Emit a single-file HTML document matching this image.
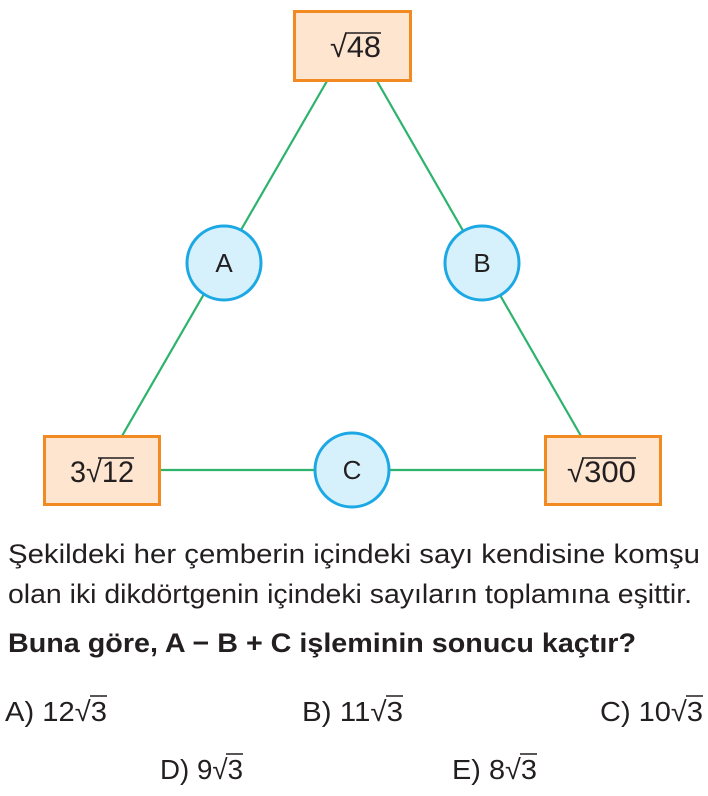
<!DOCTYPE html>
<html><head><meta charset="utf-8"><style>
html,body{margin:0;padding:0;background:#fff;}
svg{display:block;}
text{font-family:"Liberation Sans",sans-serif;fill:#231f20;}
</style></head><body>
<svg width="708" height="796" viewBox="0 0 708 796" xmlns="http://www.w3.org/2000/svg">
<g stroke="#2db36b" stroke-width="2.2" fill="none">
<line x1="327" y1="81" x2="122" y2="436"/>
<line x1="377" y1="81" x2="581" y2="436"/>
<line x1="160" y1="470" x2="545" y2="470"/>
</g>
<g fill="#fde5cf" stroke="#f18a21" stroke-width="3">
<rect x="294.5" y="11.5" width="116" height="69"/>
<rect x="44.5" y="436.5" width="115" height="68"/>
<rect x="545.5" y="436.5" width="115" height="68"/>
</g>
<g fill="#d6f1fc" stroke="#1ba8e4" stroke-width="3">
<circle cx="224" cy="263" r="37"/>
<circle cx="482" cy="263" r="37"/>
<circle cx="352" cy="470" r="37"/>
</g>
<g font-size="26" text-anchor="middle">
<text x="224" y="272">A</text>
<text x="482" y="272">B</text>
<text x="352" y="479">C</text>
</g>
<g font-size="30">
<text x="330" y="57" textLength="51" lengthAdjust="spacingAndGlyphs">√48</text>
<text x="70" y="482" textLength="64" lengthAdjust="spacingAndGlyphs">3√12</text>
<text x="567" y="482" textLength="69" lengthAdjust="spacingAndGlyphs">√300</text>
</g>
<g stroke="#231f20" stroke-width="1.6">
<line x1="345" y1="33" x2="381" y2="33"/>
<line x1="98" y1="458" x2="134" y2="458"/>
<line x1="582" y1="458" x2="636" y2="458"/>
</g>
<g font-size="27">
<text x="8" y="563" textLength="692" lengthAdjust="spacingAndGlyphs">Şekildeki her çemberin içindeki sayı kendisine komşu</text>
<text x="8" y="603" textLength="684" lengthAdjust="spacingAndGlyphs">olan iki dikdörtgenin içindeki sayıların toplamına eşittir.</text>
<text x="8" y="652" font-weight="bold" textLength="628" lengthAdjust="spacingAndGlyphs">Buna göre, A − B + C işleminin sonucu kaçtır?</text>
</g>
<g font-size="28">
<text x="5" y="721" textLength="102" lengthAdjust="spacingAndGlyphs">A) 12√3</text>
<text x="302" y="721" textLength="101" lengthAdjust="spacingAndGlyphs">B) 11√3</text>
<text x="600" y="721" textLength="103" lengthAdjust="spacingAndGlyphs">C) 10√3</text>
<text x="160" y="779" textLength="83" lengthAdjust="spacingAndGlyphs">D) 9√3</text>
<text x="452" y="779" textLength="85" lengthAdjust="spacingAndGlyphs">E) 8√3</text>
</g>
<g stroke="#231f20" stroke-width="1.5">
<line x1="90" y1="696" x2="107" y2="696"/>
<line x1="386" y1="696" x2="403" y2="696"/>
<line x1="686" y1="696" x2="703" y2="696"/>
<line x1="226" y1="754" x2="243" y2="754"/>
<line x1="520" y1="754" x2="537" y2="754"/>
</g>
</svg>
</body></html>
